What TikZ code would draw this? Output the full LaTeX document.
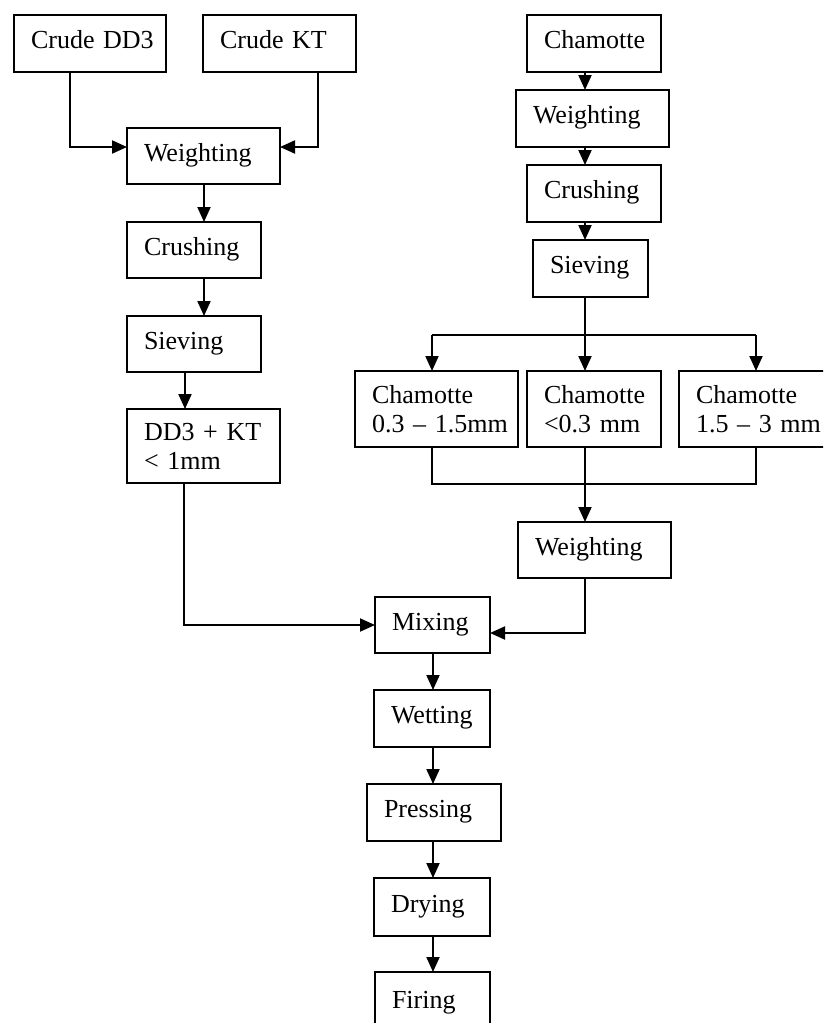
\documentclass[tikz,border=0pt]{standalone}
\usepackage{fontspec}
\setmainfont{Liberation Serif}
\usetikzlibrary{arrows.meta}
\tikzset{
  box/.style={draw, line width=2pt, inner xsep=17pt, inner ysep=0pt, outer sep=0pt,
    align=left, anchor=north west,
    font=\fontsize{26}{29}\selectfont},
  one/.style={box, text height=16pt, text depth=6pt},
  two/.style={box},
  conn/.style={line width=2pt},
  arr/.style={conn, -{Triangle[length=15pt,width=13pt]}}
}
\begin{document}
\begin{tikzpicture}[x=1pt,y=1pt]
\useasboundingbox (0,0) rectangle (823,-1023);
\clip (0,0) rectangle (823,-1023);
% left column
\node[one, text width=118pt, minimum height=57pt] (cdd3) at (14,-15) {\mbox{Crude DD3}};
\node[one, text width=119pt, minimum height=57pt] (ckt) at (203,-15) {\mbox{Crude KT}};
\node[one, text width=119pt, minimum height=56pt] (wL) at (127,-128) {Weighting};
\node[one, text width=100pt, minimum height=56pt] (crL) at (127,-222) {Crushing};
\node[one, text width=100pt, minimum height=56pt] (sL) at (127,-316) {Sieving};
\node[two, text width=119pt, minimum height=74pt] (dk) at (127,-409) {\mbox{DD3 + KT}\\\mbox{< 1mm}};
% right column
\node[one, text width=100pt, minimum height=57pt] (cham) at (527,-15) {Chamotte};
\node[one, text width=119pt, minimum height=57pt] (wR) at (516,-90) {Weighting};
\node[one, text width=100pt, minimum height=57pt] (crR) at (527,-165) {Crushing};
\node[one, text width=81pt, minimum height=57pt] (sR) at (533,-240) {Sieving};
\node[two, text width=129pt, minimum height=76pt] (c1) at (355,-371) {Chamotte\\\mbox{0.3 \textendash{} 1.5mm}};
\node[two, text width=100pt, minimum height=76pt] (c2) at (527,-371) {Chamotte\\\mbox{<0.3 mm}};
\node[two, text width=117pt, minimum height=76pt] (c3) at (679,-371) {Chamotte\\\mbox{1.5 \textendash{} 3 mm}};
\node[one, text width=119pt, minimum height=56pt] (w2) at (518,-522) {Weighting};
% bottom chain
\node[one, text width=81pt, minimum height=56pt] (mix) at (375,-597) {Mixing};
\node[one, text width=82pt, minimum height=57pt] (wet) at (374,-690) {Wetting};
\node[one, text width=100pt, minimum height=57pt] (press) at (367,-784) {Pressing};
\node[one, text width=82pt, minimum height=58pt] (dry) at (374,-878) {Drying};
\node[one, text width=81pt, minimum height=63pt] (fire) at (375,-972) {Firing};
% guide coordinates
\coordinate (xa) at (70,0);
\coordinate (xb) at (318,0);
\coordinate (xl) at (204,0);
\coordinate (xs) at (185,0);
\coordinate (xd) at (184,0);
\coordinate (xr) at (585,0);
\coordinate (xm) at (433,0);
\coordinate (b1) at (432,-335);
\coordinate (b3) at (756,-335);
\coordinate (m1) at (432,-484);
\coordinate (m3) at (756,-484);
% connectors left
\draw[arr] (xa |- cdd3.south) |- ([yshift=9pt]wL.west);
\draw[arr] (xb |- ckt.south) |- ([yshift=9pt]wL.east);
\draw[arr] (xl |- wL.south) -- (xl |- crL.north);
\draw[arr] (xl |- crL.south) -- (xl |- sL.north);
\draw[arr] (xs |- sL.south) -- (xs |- dk.north);
\draw[arr] (xd |- dk.south) |- (mix.west);
% connectors right
\draw[arr] (xr |- cham.south) -- (xr |- wR.north);
\draw[arr] (xr |- wR.south) -- (xr |- crR.north);
\draw[arr] (xr |- crR.south) -- (xr |- sR.north);
\draw[arr] (xr |- sR.south) -- (xr |- c2.north);
\draw[conn] (b1) -- (b3);
\draw[arr] (b1) -- (b1 |- c1.north);
\draw[arr] (b3) -- (b3 |- c3.north);
\draw[conn] (b1 |- c1.south) -- (m1) -- (m3) -- (b3 |- c3.south);
\draw[arr] (xr |- c2.south) -- (xr |- w2.north);
\draw[arr] (xr |- w2.south) |- ([yshift=-8pt]mix.east);
% bottom chain
\draw[arr] (xm |- mix.south) -- (xm |- wet.north);
\draw[arr] (xm |- wet.south) -- (xm |- press.north);
\draw[arr] (xm |- press.south) -- (xm |- dry.north);
\draw[arr] (xm |- dry.south) -- (xm |- fire.north);
\end{tikzpicture}
\end{document}
